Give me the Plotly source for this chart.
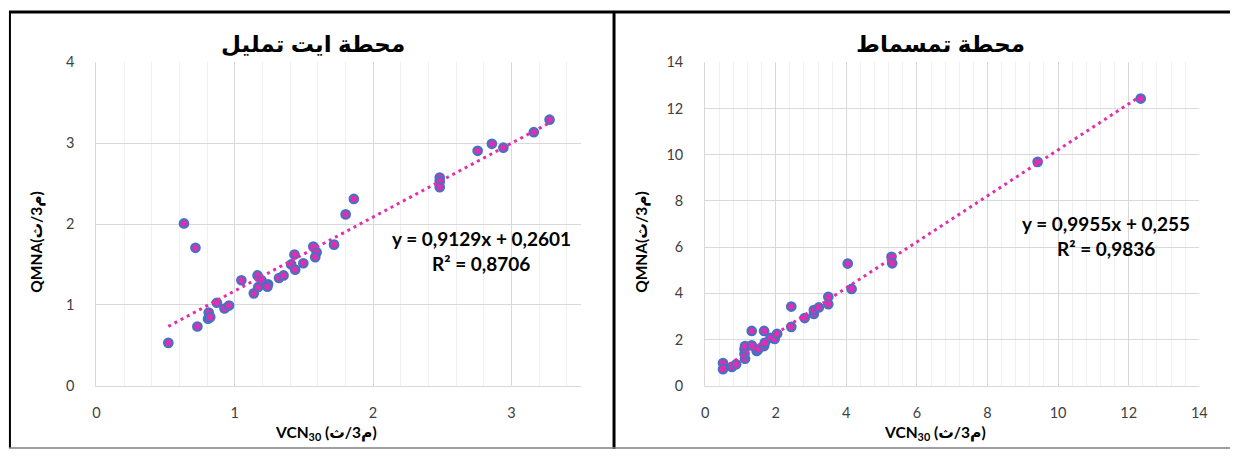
import plotly.graph_objects as go

W, H = 1238, 459

# ---- Data: station "محطة ايت تمليل" (left) ----
left_title = "محطة ايت تمليل"
left_vcn30 = [0.52, 0.633, 0.716, 0.73, 0.812, 0.807, 0.823, 0.871, 0.926, 0.959,
              1.048, 1.138, 1.165, 1.17, 1.193, 1.241, 1.236, 1.32, 1.353, 1.408,
              1.432, 1.437, 1.496, 1.568, 1.592, 1.582, 1.718, 1.802, 1.861,
              2.482, 2.482, 2.482, 2.756, 2.859, 2.942, 3.162, 3.276]
left_qmna = [0.531, 2.007, 1.706, 0.733, 0.905, 0.829, 0.849, 1.027, 0.956, 0.992,
             1.305, 1.143, 1.364, 1.221, 1.305, 1.254, 1.226, 1.333, 1.364, 1.5,
             1.623, 1.436, 1.515, 1.721, 1.65, 1.59, 1.745, 2.119, 2.31,
             2.575, 2.527, 2.456, 2.905, 2.992, 2.944, 3.135, 3.29]
left_slope, left_intercept, left_r2 = 0.9129, 0.2601, "0,8706"
left_eq = "y = 0,9129x + 0,2601"

# ---- Data: station "محطة تمسماط" (right) ----
right_title = "محطة تمسماط"
right_vcn30 = [0.506, 0.506, 0.758, 0.88, 1.13, 1.115, 1.115, 1.13, 1.32, 1.32,
               1.46, 1.51, 1.67, 1.67, 1.69, 1.85, 1.97, 2.04, 2.44, 2.44,
               2.82, 3.08, 3.08, 3.22, 3.49, 3.49, 4.04, 4.15, 5.28, 5.30,
               9.42, 12.34]
right_qmna = [0.983, 0.72, 0.817, 0.93, 1.17, 1.375, 1.58, 1.72, 2.375, 1.75,
              1.51, 1.58, 1.72, 2.375, 1.86, 2.07, 2.03, 2.25, 3.43, 2.55,
              2.93, 3.11, 3.28, 3.39, 3.85, 3.53, 5.29, 4.19, 5.58, 5.30,
              9.69, 12.43]
right_slope, right_intercept, right_r2 = 0.9955, 0.255, "0,9836"
right_eq = "y = 0,9955x + 0,255"

x_title = "VCN<sub>30</sub> (م3/ث)"
y_title = "QMNA(م3/ث)"

left_xticks = [0, 1, 2, 3]
left_yticks = [0, 1, 2, 3, 4]
right_xticks = [0, 2, 4, 6, 8, 10, 12, 14]
right_yticks = [0, 2, 4, 6, 8, 10, 12, 14]

BLUE = "#4472C4"
PINK = "#E22DAE"
MAJOR = "#D9D9D9"
MINOR = "#F0F0F0"
TICK_FONT = dict(family="Lato, Liberation Sans, sans-serif", size=14.5, color="#404040")


def px_x(p):
    return p / W


def px_y(p):
    return 1 - p / H


fig = go.Figure()


def add_panel(xs, ys, slope, intercept, xaxis, yaxis):
    fig.add_trace(go.Scatter(
        x=xs, y=ys, mode="markers", xaxis=xaxis, yaxis=yaxis,
        marker=dict(size=8.5, color=PINK, line=dict(color=BLUE, width=2.2)),
        showlegend=False, hoverinfo="skip"))
    x0, x1 = min(xs), max(xs)
    fig.add_trace(go.Scatter(
        x=[x0, x1], y=[slope * x0 + intercept, slope * x1 + intercept],
        mode="lines", xaxis=xaxis, yaxis=yaxis,
        line=dict(color=PINK, width=3, dash="3px,4px"),
        showlegend=False, hoverinfo="skip"))


add_panel(left_vcn30, left_qmna, left_slope, left_intercept, "x", "y")
add_panel(right_vcn30, right_qmna, right_slope, right_intercept, "x2", "y2")

ydom = [px_y(391.3), px_y(55.3)]

common_x = dict(showgrid=True, gridcolor=MAJOR, gridwidth=1, zeroline=False,
                showline=True, linecolor=MAJOR, linewidth=1, ticks="",
                tickfont=TICK_FONT, ticklabelstandoff=14, fixedrange=True)
common_y = dict(showgrid=True, gridcolor=MAJOR, gridwidth=1, zeroline=False,
                showline=True, linecolor=MAJOR, linewidth=1, ticks="",
                tickfont=TICK_FONT, ticklabelstandoff=18, fixedrange=True)

fig.update_layout(
    width=W, height=H,
    margin=dict(l=0, r=0, t=0, b=0),
    paper_bgcolor="white", plot_bgcolor="white",
    xaxis=dict(domain=[px_x(93.3), px_x(582.2)], range=[0, 3.5],
               tickvals=left_xticks, anchor="y",
               minor=dict(dtick=0.2, showgrid=True, gridcolor=MINOR, gridwidth=1),
               **common_x),
    yaxis=dict(domain=ydom, range=[0, 4], tickvals=left_yticks, anchor="x",
               **common_y),
    xaxis2=dict(domain=[px_x(708), px_x(1207)], range=[0, 14],
                tickvals=right_xticks, anchor="y2",
                minor=dict(dtick=0.4, showgrid=True, gridcolor=MINOR, gridwidth=1),
                **common_x),
    yaxis2=dict(domain=ydom, range=[0, 14], tickvals=right_yticks, anchor="x2",
                **common_y),
)

ann = []
TITLE_FONT = dict(family="Arial, DejaVu Sans, sans-serif", size=23, color="black", weight="bold")
AX_FONT = dict(family="Lato, DejaVu Sans, sans-serif", size=15.5, color="black", weight="bold")
EQ_FONT = dict(family="Lato, Liberation Sans, sans-serif", size=19, color="black", weight="bold")

for title, cx in [(left_title, 312), (right_title, 946)]:
    ann.append(dict(text=title, x=px_x(cx), y=px_y(36), xref="paper", yref="paper",
                    showarrow=False, font=TITLE_FONT, xanchor="center", yanchor="middle"))

for cx in [325, 940]:
    ann.append(dict(text=x_title, x=px_x(cx), y=px_y(440), xref="paper", yref="paper",
                    showarrow=False, font=AX_FONT, xanchor="center", yanchor="middle"))

for cx in [32, 643]:
    ann.append(dict(text=y_title, x=px_x(cx), y=px_y(242), xref="paper", yref="paper",
                    showarrow=False, font=AX_FONT, textangle=-90,
                    xanchor="center", yanchor="middle"))

for eq, r2, cx, cy in [(left_eq, left_r2, 482, 238), (right_eq, right_r2, 1113, 223)]:
    ann.append(dict(text=eq, x=px_x(cx), y=px_y(cy), xref="paper", yref="paper",
                    showarrow=False, font=EQ_FONT, xanchor="center", yanchor="middle"))
    ann.append(dict(text="R² = " + r2, x=px_x(cx), y=px_y(cy + 26), xref="paper", yref="paper",
                    showarrow=False, font=EQ_FONT, xanchor="center", yanchor="middle"))

fig.update_layout(annotations=ann)

shapes = [
    dict(type="line", x0=px_x(6), x1=px_x(6), y0=px_y(3), y1=px_y(456),
         xref="paper", yref="paper", line=dict(color="black", width=2)),
    dict(type="line", x0=px_x(5), x1=1, y0=px_y(3), y1=px_y(3),
         xref="paper", yref="paper", line=dict(color="black", width=3)),
    dict(type="line", x0=px_x(616), x1=px_x(616), y0=px_y(3), y1=px_y(457),
         xref="paper", yref="paper", line=dict(color="black", width=3)),
    dict(type="line", x0=px_x(5), x1=1, y0=px_y(456), y1=px_y(456),
         xref="paper", yref="paper", line=dict(color="#808080", width=1.5)),
]
fig.update_layout(shapes=shapes)

fig.write_html("out.html",
               config={"displayModeBar": False},
               post_script="document.body.style.margin='0';document.body.style.overflow='hidden';")
